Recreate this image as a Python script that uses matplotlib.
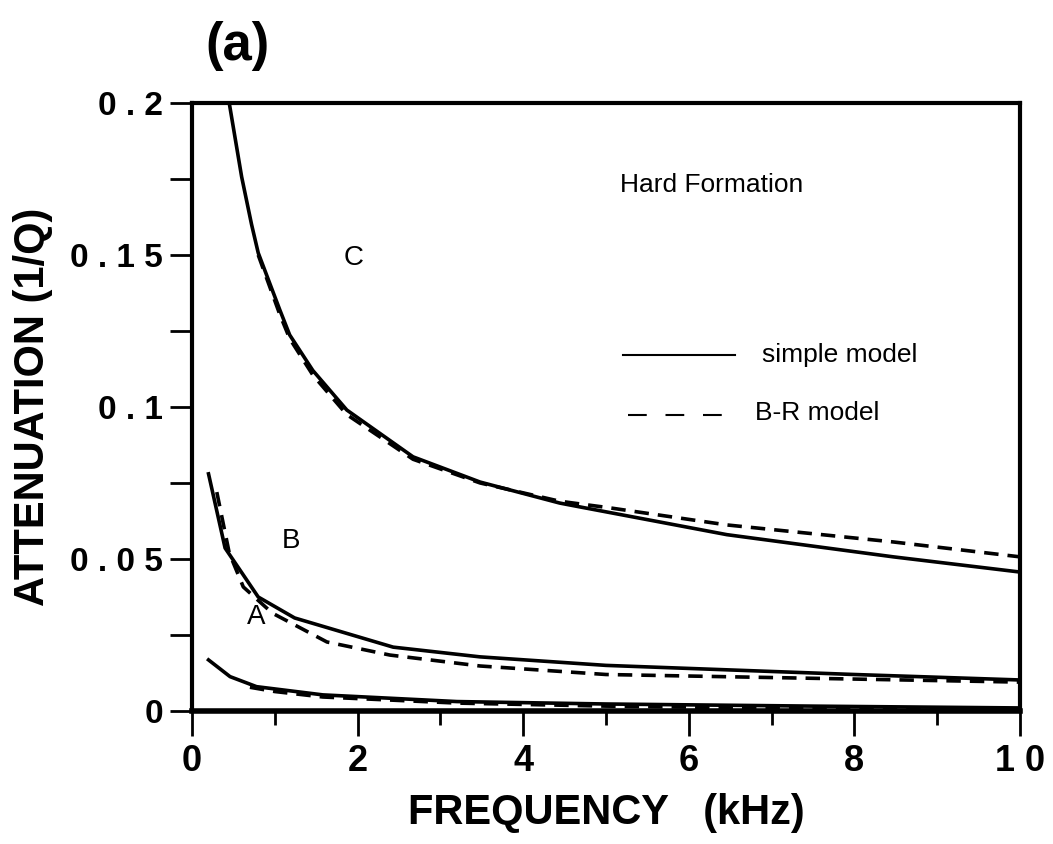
import numpy as np
import matplotlib.pyplot as plt
from matplotlib.ticker import FixedLocator

plt.rcParams['font.family'] = ['Liberation Sans', 'DejaVu Sans']

# curve C
c_f_simple = [0.45, 0.60, 0.72, 0.80, 1.06, 1.18, 1.46, 1.87, 2.67, 3.48, 4.44, 4.69, 6.46, 8.47, 10.0]
c_simple = [0.200, 0.1757, 0.160, 0.1507, 0.132, 0.1237, 0.112, 0.099, 0.0836, 0.0753, 0.0684, 0.0671, 0.058, 0.0507, 0.0457]
c_f_br = [0.80, 1.06, 1.18, 1.46, 1.87, 2.67, 3.48, 4.44, 5.05, 6.46, 8.47, 10.0]
c_br = [0.1500, 0.1305, 0.1225, 0.1105, 0.0975, 0.0828, 0.0750, 0.0690, 0.0668, 0.0612, 0.0556, 0.0507]

# curve B
b_f_simple = [0.2, 0.40, 0.80, 1.24, 2.43, 3.48, 5.0, 6.0, 8.0, 10.0]
b_simple = [0.078, 0.0536, 0.0375, 0.0306, 0.021, 0.0178, 0.0150, 0.0140, 0.0120, 0.0102]
b_f_br = [0.3, 0.45, 0.62, 0.97, 1.63, 2.39, 3.48, 5.0, 6.0, 8.0, 10.0]
b_br = [0.072, 0.052, 0.0408, 0.0322, 0.0227, 0.0184, 0.0148, 0.0120, 0.0115, 0.0105, 0.0095]

# curve A
a_f_simple = [0.2, 0.46, 0.78, 1.58, 3.2, 5.0, 7.5, 10.0]
a_simple = [0.0168, 0.0113, 0.0080, 0.0053, 0.0031, 0.0023, 0.0016, 0.0010]
a_f_br = [0.7, 1.0, 1.58, 3.2, 5.0, 7.5, 10.0]
a_br = [0.0078, 0.0064, 0.0046, 0.0026, 0.0016, 0.0008, 0.0002]

y_major = [0, 0.05, 0.1, 0.15, 0.2]
y_labels = ['0', '0 . 0 5', '0 . 1', '0 . 1 5', '0 . 2']
x_major = [0, 2, 4, 6, 8, 10]
x_labels = ['0', '2', '4', '6', '8', '1 0']

fig = plt.figure(figsize=(10.53, 8.44), dpi=100)
ax = fig.add_axes([0.1823, 0.1576, 0.7864, 0.7204])

lw = 2.6
dash = (0, (4.0, 2.5))
ax.plot(c_f_simple, c_simple, color='black', lw=lw)
ax.plot(c_f_br, c_br, color='black', lw=lw, linestyle=dash)
ax.plot(b_f_simple, b_simple, color='black', lw=lw)
ax.plot(b_f_br, b_br, color='black', lw=lw, linestyle=dash)
ax.plot(a_f_simple, a_simple, color='black', lw=lw)
ax.plot(a_f_br, a_br, color='black', lw=lw, linestyle=dash)

ax.set_xlim(0, 10)
ax.set_ylim(0, 0.2)

for s in ax.spines.values():
    s.set_linewidth(3)
ax.spines['bottom'].set_linewidth(4)

ax.set_yticks(y_major)
ax.set_yticklabels(y_labels, fontsize=24, fontweight='bold')
ax.yaxis.set_minor_locator(FixedLocator([0.025, 0.075, 0.125, 0.175]))
ax.set_xticks(x_major)
ax.set_xticklabels(x_labels, fontsize=26, fontweight='bold')
ax.xaxis.set_minor_locator(FixedLocator([1, 3, 5, 7, 9]))
ax.tick_params(axis='y', which='both', direction='out', length=16, width=2, pad=5)
ax.tick_params(axis='x', which='major', direction='out', length=18, width=2, pad=6)
ax.tick_params(axis='x', which='minor', direction='out', length=10, width=2)

ax.set_xlabel('FREQUENCY   (kHz)', fontsize=30, fontweight='bold', labelpad=10)
ax.set_ylabel('ATTENUATION (1/Q)', fontsize=30, fontweight='bold', labelpad=12)

ax.text(1.95, 0.149, 'C', fontsize=20, ha='center', va='center')
ax.text(1.2, 0.056, 'B', fontsize=20, ha='center', va='center')
ax.text(0.77, 0.031, 'A', fontsize=20, ha='center', va='center')
ax.text(5.17, 0.173, 'Hard Formation', fontsize=19, va='center')

# legend drawn by hand
ax.plot([5.2, 6.56], [0.117, 0.117], color='black', lw=1.5)
ax.text(6.88, 0.117, 'simple model', fontsize=19, va='center')
ax.plot([5.27, 6.48], [0.0975, 0.0975], color='black', lw=1.5, linestyle=(0, (9, 9)))
ax.text(6.8, 0.098, 'B-R model', fontsize=19, va='center')

fig.text(0.195, 0.945, '(a)', fontsize=38, fontweight='bold', ha='left', va='center')

fig.savefig('out.png', dpi=100)
